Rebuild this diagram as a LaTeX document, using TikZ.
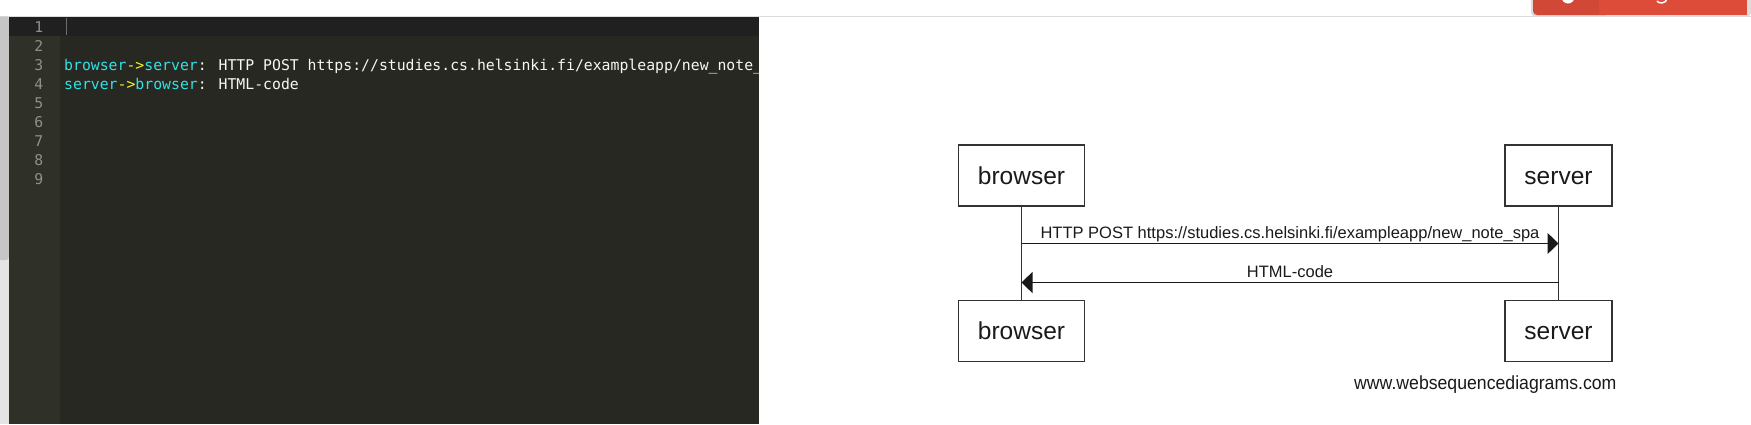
\documentclass[tikz,border=0pt]{standalone}
\usepackage{fontspec}
\setmainfont{Liberation Sans}
\newfontfamily\codefont{DejaVu Sans Mono}
\usepackage{xcolor}
\definecolor{editorbg}{RGB}{39,40,34}
\definecolor{gutterbg}{RGB}{47,49,41}
\definecolor{activebg}{RGB}{32,32,32}
\definecolor{numgray}{RGB}{143,144,138}
\definecolor{codewhite}{RGB}{248,248,242}
\definecolor{codecyan}{RGB}{50,225,230}
\definecolor{codeyellow}{RGB}{245,245,40}
\definecolor{cursorgray}{RGB}{110,110,110}
\definecolor{sbtrack}{RGB}{228,228,228}
\definecolor{sbthumb}{RGB}{198,198,198}
\definecolor{sepgray}{RGB}{220,220,220}
\definecolor{btnred}{RGB}{221,75,57}
\definecolor{btndark}{RGB}{209,72,54}
\definecolor{boxgray}{RGB}{51,51,51}
\definecolor{arrowblack}{RGB}{25,25,25}
\definecolor{textblack}{RGB}{26,26,26}
\usepackage{tikz}
\usetikzlibrary{arrows.meta, positioning}

\begin{document}
\begin{tikzpicture}[
      x=1pt, y=-1pt,
      actor/.style={rectangle, draw=boxgray, line width=1.4pt, fill=white, minimum height=61pt, inner xsep=19.5pt, inner ysep=0pt, text height=17.5pt, text depth=0pt, text=textblack, font=\fontsize{24.5}{29}\selectfont},
      life/.style={draw=boxgray, line width=1.3pt},
      msg/.style={-{Triangle[length=11pt, width=21pt]}, line width=1.3pt, arrowblack},
      lbl/.style={anchor=base, yshift=5pt, inner sep=0pt, text=textblack, font=\fontsize{16.5}{20}\selectfont},
      lineno/.style={anchor=base east, inner sep=0pt, text=numgray, font=\codefont\fontsize{14.8}{18}\selectfont},
      code/.style={anchor=base west, inner sep=0pt, text=codewhite, font=\codefont\fontsize{14.8}{18}\selectfont},
    ]
    \useasboundingbox (0,0) rectangle (1751,424);
    \fill[white] (0,0) rectangle (1751,424);
    \draw[sepgray, line width=1pt] (0,16) -- (1751,16);

    \fill[sepgray, rounded corners=4pt] (1531,-5) rectangle (1751,16.5);
    \fill[btndark, rounded corners=4pt] (1533,-5) rectangle (1610,15);
    \fill[btnred] (1599,-5) rectangle (1747,15);
    \fill[white] (1568,-3) circle (6.5);
    \draw[white, line width=1.5pt] (1667,-2) .. controls (1667,4) and (1658,4) .. (1657,1);

    \fill[sbtrack] (0,16.5) rectangle (9,424);
    \fill[sbthumb, rounded corners=3pt] (-4,16.5) rectangle (9,260);
    \fill[gutterbg] (9,16.5) rectangle (60,424);
    \fill[editorbg] (60,16.5) rectangle (759,424);
    \fill[activebg] (9,16.5) rectangle (759,36);
    \draw[cursorgray, line width=0.8pt] (66,18) -- (66,35);

    \foreach \n in {1,...,9}
      \node[lineno] (ln\n) at (43.5,12.9+19.1*\n) {\n};
    \node[code] (code3) at (64,70.2) {\textcolor{codecyan}{browser}\textcolor{codeyellow}{->}\textcolor{codecyan}{server}: HTTP POST https://studies.cs.helsinki.fi/exampleapp/new\_note\_};
    \node[code] (code4) at (64,89.3) {\textcolor{codecyan}{server}\textcolor{codeyellow}{->}\textcolor{codecyan}{browser}: HTML-code};

    \node[actor] (btop) at (1021.5,175.5) {browser};
    \node[actor, right=419pt of btop] (stop) {server};
    \node[actor, below=93pt of btop] (bbot) {browser};
    \node[actor, below=93pt of stop] (sbot) {server};

    \draw[life] (btop) -- (bbot);
    \draw[life] (stop) -- (sbot);

    \coordinate (post) at (0,243.5);
    \coordinate (reply) at (0,282.5);
    \draw[msg] (btop |- post) -- node[lbl] {HTTP POST https://studies.cs.helsinki.fi/exampleapp/new\_note\_spa} (stop |- post);
    \draw[msg] (stop |- reply) -- node[lbl] {HTML-code} (btop |- reply);

    \node[anchor=base west, inner sep=0pt, text=textblack, font=\fontsize{19}{23}\selectfont] (site) at (1354,389) {\scalebox{0.93}[1]{www.websequencediagrams.com}};
  \end{tikzpicture}
\end{document}
